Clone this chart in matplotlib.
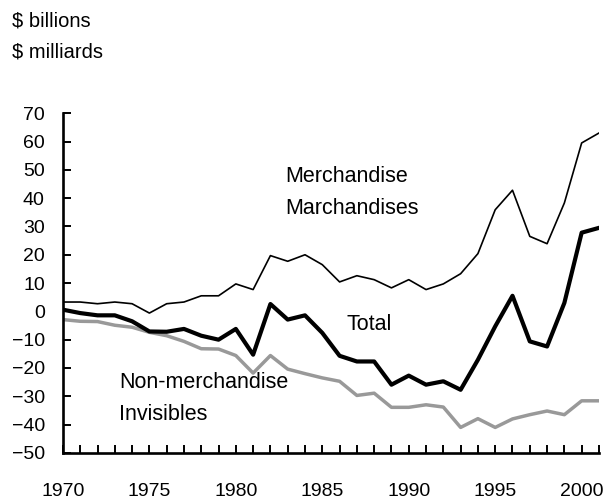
import numpy as np
import matplotlib
matplotlib.use("Agg")
import matplotlib.pyplot as plt
from matplotlib.ticker import MultipleLocator

plt.rcParams['font.family'] = ['Liberation Sans', 'DejaVu Sans']

years = list(range(1970, 2002))
merchandise = [3.3, 3.3, 2.7, 3.3, 2.7, -0.6, 2.7, 3.3, 5.5, 5.5, 9.7, 7.7,
               19.7, 17.7, 20.0, 16.5, 10.4, 12.6, 11.2, 8.3, 11.2, 7.7, 9.7, 13.3,
               20.4, 35.9, 42.8, 26.5, 23.9, 38.3, 59.5, 63.0]
total = [0.6, -0.6, -1.4, -1.4, -3.5, -7.1, -7.2, -6.2, -8.6, -10.0, -6.2, -15.3,
         2.6, -2.9, -1.4, -7.6, -15.7, -17.7, -17.7, -25.9, -22.7, -25.9, -24.7, -27.7,
         -17.1, -5.3, 5.5, -10.6, -12.4, 3.0, 27.8, 29.5]
non_merchandise = [-2.9, -3.5, -3.6, -4.9, -5.6, -7.4, -8.6, -10.6, -13.2, -13.3, -15.6, -21.8,
                   -15.6, -20.4, -22.0, -23.5, -24.7, -29.7, -28.9, -33.9, -33.9, -33.0, -33.8, -41.0,
                   -37.9, -41.0, -38.0, -36.5, -35.2, -36.5, -31.6, -31.6]
year_labels = [1970, 1975, 1980, 1985, 1990, 1995, 2000]

fig = plt.figure(figsize=(6.05, 5.01), dpi=100)
ax = fig.add_axes([0.104, 0.096, 0.886, 0.678])

ax.plot(years, merchandise, color='black', lw=1.2)
ax.plot(years, non_merchandise, color='#999999', lw=2.5)
ax.plot(years, total, color='black', lw=3.0)

ax.set_xlim(1970, 2001)
ax.set_ylim(-50, 70)
ax.set_yticks(range(-50, 71, 10))
ax.set_xticks(year_labels)
ax.xaxis.set_minor_locator(MultipleLocator(1))

for s in ['top', 'right']:
    ax.spines[s].set_visible(False)
for s in ['left', 'bottom']:
    ax.spines[s].set_linewidth(1.9)

ax.tick_params(axis='y', direction='in', length=6, width=1.4, labelsize=14, pad=13)
ax.tick_params(axis='x', which='both', direction='in', length=5.5, width=1.4, labelsize=14, pad=22)

ax.text(1982.84, 47.6, 'Merchandise', fontsize=15.5, va='center')
ax.text(1982.84, 36.3, 'Marchandises', fontsize=15.5, va='center')
ax.text(1986.4, -4.7, 'Total', fontsize=15.5, va='center')
ax.text(1973.24, -25.1, 'Non-merchandise', fontsize=15.5, va='center')
ax.text(1973.24, -36.5, 'Invisibles', fontsize=15.5, va='center')

fig.text(0.02, 1 - 21 / 501, '$ billions', fontsize=14.5, va='center')
fig.text(0.02, 1 - 52 / 501, '$ milliards', fontsize=14.5, va='center')

fig.savefig('out.png', dpi=100)
